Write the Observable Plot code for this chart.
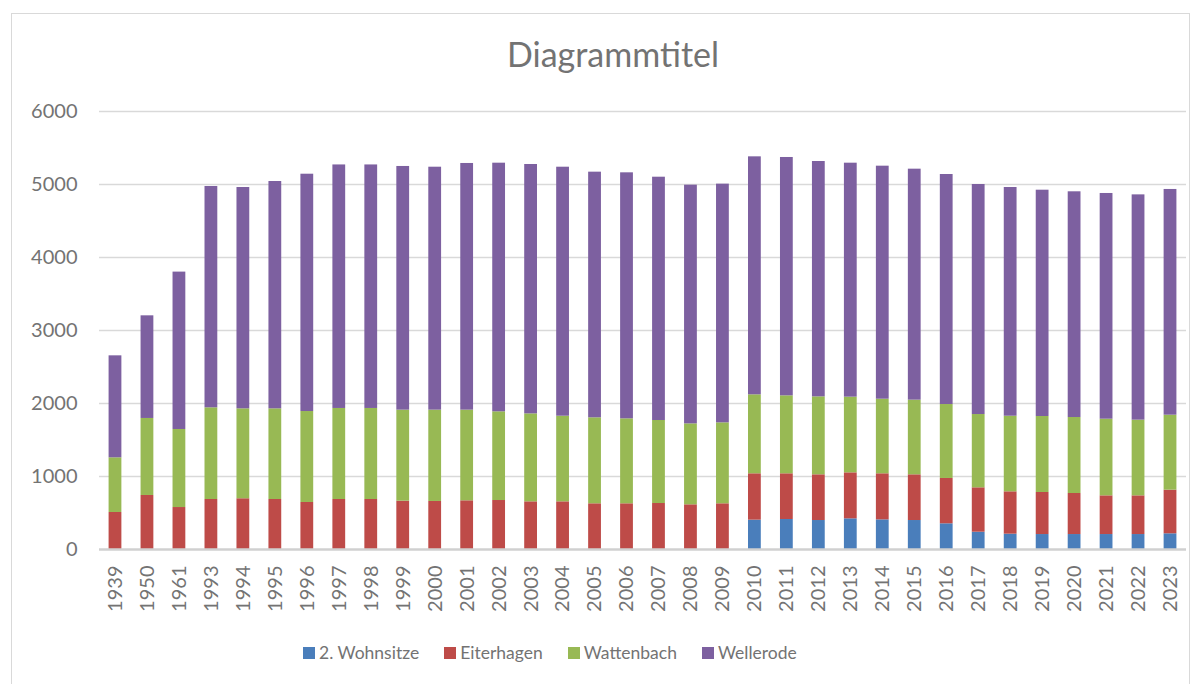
<!DOCTYPE html>
<html>
<head>
<meta charset="utf-8">
<script src="https://cdn.jsdelivr.net/npm/d3@7"></script>
<script src="https://cdn.jsdelivr.net/npm/@observablehq/plot@0.6"></script>
<style>
  html, body { margin: 0; padding: 0; background: #fff; }
  body { width: 1202px; height: 684px; position: relative; overflow: hidden; font-family: Lato, "DejaVu Sans", sans-serif; }
  #frame { position: absolute; left: 11px; top: 13px; width: 1179px; height: 700px; border: 1.5px solid #d9d9d9; box-sizing: border-box; }
  #title { position: absolute; left: 0; width: 1226px; top: 33px; text-align: center; font-size: 34px; color: #737373; }
  #chart { position: absolute; left: 0; top: 90px; }
  #legend { position: absolute; left: 303px; top: 642px; display: flex; align-items: center; font-size: 17.5px; color: #737373; white-space: nowrap; }
  .item { display: flex; align-items: center; margin-right: 25px; }
  .sw { width: 12px; height: 12px; margin-right: 4px; }
</style>
</head>
<body>
<div id="frame"></div>
<div id="title">Diagrammtitel</div>
<div id="chart"></div>
<div id="legend"></div>
<script>
const years = ["1939","1950","1961","1993","1994","1995","1996","1997","1998","1999","2000","2001","2002","2003","2004","2005","2006","2007","2008","2009","2010","2011","2012","2013","2014","2015","2016","2017","2018","2019","2020","2021","2022","2023"];
const seriesNames = ["2. Wohnsitze","Eiterhagen","Wattenbach","Wellerode"];
const seriesColors = ["#4a7ebb","#be4b48","#98b954","#7d60a0"];
const wohnsitze = [0,0,0,0,0,0,0,0,0,0,0,0,0,0,0,0,0,0,0,0,402,411,397,420,406,397,352,237,210,205,205,205,205,215];
const eiterhagen = [507,740,575,685,695,685,644,685,685,662,658,667,671,653,653,626,626,630,612,626,635,626,626,630,631,626,621,608,580,576,562,530,530,598];
const wattenbach = [749,1055,1069,1256,1232,1242,1246,1247,1247,1247,1251,1242,1215,1205,1173,1178,1164,1137,1109,1109,1082,1068,1068,1037,1022,1023,1013,1004,1036,1041,1041,1050,1037,1027];
const wellerode = [1397,1406,2156,3032,3032,3114,3251,3336,3336,3338,3328,3379,3406,3416,3411,3365,3370,3333,3270,3270,3260,3265,3224,3205,3192,3164,3151,3151,3133,3100,3092,3092,3086,3092];
const yTicks = [0,1000,2000,3000,4000,5000,6000];

const seriesValues = [wohnsitze, eiterhagen, wattenbach, wellerode];
const data = years.flatMap((year, i) =>
  seriesNames.map((s, k) => ({year, series: s, value: seriesValues[k][i]}))
);

const plot = Plot.plot({
  width: 1202,
  height: 540,
  marginLeft: 99,
  marginRight: 16,
  marginTop: 21,
  marginBottom: 81,
  style: {fontFamily: "Lato, 'DejaVu Sans', sans-serif", fontSize: "20px", color: "#737373", background: "transparent"},
  x: {domain: years, paddingInner: 0.6, paddingOuter: 0.3, label: null},
  y: {domain: [0, 6000], label: null},
  color: {domain: seriesNames, range: seriesColors},
  marks: [
    Plot.ruleY(yTicks.filter(d => d > 0), {stroke: "#d9d9d9", strokeWidth: 1.3}),
    Plot.barY(data, {x: "year", y: "value", fill: "series"}),
    Plot.ruleY([0], {stroke: "#d0d0d0", strokeWidth: 2.3}),
    Plot.axisY({ticks: yTicks, tickSize: 0, tickPadding: 22, tickFormat: d => String(d), label: null, fill: "#737373"}),
    Plot.axisX({tickRotate: -90, tickSize: 0, tickPadding: 16, label: null, fill: "#737373"})
  ]
});
document.getElementById("chart").appendChild(plot);

const legend = document.getElementById("legend");
seriesNames.forEach((s, k) => {
  const it = document.createElement("div");
  it.className = "item";
  const sw = document.createElement("div");
  sw.className = "sw";
  sw.style.background = seriesColors[k];
  const tx = document.createElement("span");
  tx.textContent = s;
  it.appendChild(sw);
  it.appendChild(tx);
  legend.appendChild(it);
});
</script>
</body>
</html>
